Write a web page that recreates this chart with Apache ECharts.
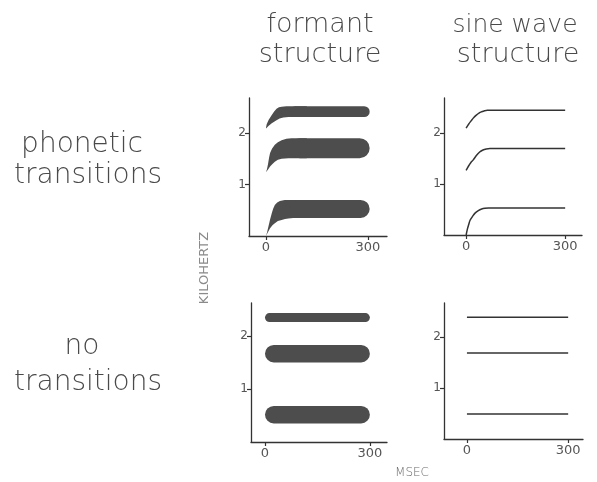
<!DOCTYPE html>
<html>
<head>
<meta charset="utf-8">
<script src="https://cdn.jsdelivr.net/npm/echarts@6/dist/echarts.min.js"></script>
<style>html,body{margin:0;padding:0;background:#fff;}#c{width:597px;height:482px;}</style>
</head>
<body>
<div id="c"></div>
<script>
// ---- data ----
const xTickMs = [0, 300];
const yTickKHz = [1, 2];
const colTitles = [['formant', 'structure'], ['sine wave', 'structure']];
const rowTitles = [['phonetic', 'transitions'], ['no', 'transitions']];
const yAxisTitle = 'KILOHERTZ';
const xAxisTitle = 'MSEC';

// top-left: formant bands with transitions (edges as [ms, kHz])
const tlF1Upper = [[0,0],[3,0.07],[7,0.18],[12,0.32],[17,0.44],[21,0.53],[26,0.60],[33,0.65],[41,0.68],[55,0.70],[120,0.70]];
const tlF1Lower = [[0,0],[6,0.08],[12,0.15],[19,0.21],[26,0.25],[35,0.29],[46,0.31],[56,0.33],[66,0.34],[80,0.35],[120,0.35]];
const tlF2Upper = [[0,1.24],[3,1.30],[6,1.40],[9,1.52],[12,1.61],[18,1.70],[26,1.77],[35,1.82],[46,1.86],[60,1.89],[75,1.90],[120,1.90]];
const tlF2Lower = [[0,1.24],[6,1.29],[12,1.35],[19,1.40],[26,1.44],[35,1.48],[46,1.50],[66,1.51],[120,1.51]];
const tlF3Upper = [[0,2.10],[2,2.17],[8,2.26],[17,2.35],[24,2.42],[31,2.47],[38,2.50],[46,2.51],[60,2.52],[120,2.52]];
const tlF3Lower = [[0,2.09],[8,2.14],[17,2.19],[24,2.22],[31,2.25],[40,2.28],[51,2.30],[66,2.31],[120,2.31]];
const tlSteady = [[0.35,0.70],[1.51,1.90],[2.31,2.52]]; // [low, high] kHz
const tlSteadyEnd = 305;

// bottom-left: steady formant bands [low, high] kHz, from 0 to 300 ms
const blBands = [[0.35,0.68],[1.50,1.83],[2.26,2.43]];
const blStart = 0, blEnd = 300;

// top-right: sine-wave tracks with transitions [ms, kHz]
const trF1 = [[0,0],[4,0.12],[8,0.21],[12,0.29],[20,0.37],[27,0.43],[37,0.48],[47,0.51],[57,0.525],[68,0.53],[300,0.53]];
const trF2 = [[0,1.27],[7,1.35],[14,1.42],[21,1.47],[31,1.56],[41,1.63],[51,1.67],[61,1.69],[72,1.70],[300,1.70]];
const trF3 = [[0,2.10],[8,2.18],[15,2.24],[21,2.29],[30,2.35],[40,2.40],[47,2.42],[56,2.44],[64,2.45],[300,2.45]];

// bottom-right: steady sine-wave tracks (kHz), 0..300 ms
const brTracks = [0.49, 1.69, 2.39];
const brStart = 0, brEnd = 300;

// ---- chart ----
const ink = '#333';
const bandColor = '#4d4d4d';
const textGray = '#4a4a4a';
const FONT = 'DejaVu Sans';

const grids = [
  {left:249, top:98, width:138, height:138},
  {left:444, top:98, width:138, height:137},
  {left:251, top:303, width:136, height:139},
  {left:444, top:303, width:139, height:136}
];
const xRanges = [[-50,356],[-67,351],[-40,349],[-68,344]];
const yMax = [2.68, 2.69, 2.62, 2.67];

const xAxes = grids.map((g,i)=>({
  type:'value', gridIndex:i, min:xRanges[i][0], max:xRanges[i][1],
  axisLine:{show:true, onZero:false, lineStyle:{color:ink, width:1.3}},
  axisTick:{show:true, customValues:xTickMs, length:4, lineStyle:{color:ink, width:1.2}},
  axisLabel:{show:true, customValues:xTickMs, fontSize:13, color:'#555', fontFamily:FONT, margin:5},
  splitLine:{show:false}
}));
const yAxes = grids.map((g,i)=>({
  type:'value', gridIndex:i, min:0, max:yMax[i],
  axisLine:{show:true, onZero:false, lineStyle:{color:ink, width:1.3}},
  axisTick:{show:true, customValues:yTickKHz, length:4, lineStyle:{color:ink, width:1.2}},
  axisLabel:{show:true, customValues:yTickKHz, fontSize:12, color:'#555', fontFamily:FONT, margin:3},
  splitLine:{show:false}
}));

function transitionBand(upper, lower, steady, endT, idx) {
  return {
    type:'custom', xAxisIndex:idx, yAxisIndex:idx, silent:true,
    data:[[0]],
    renderItem:function(params, api){
      const pts = upper.map(p=>api.coord(p)).concat(lower.slice().reverse().map(p=>api.coord(p)));
      const a = api.coord([70, steady[1]]);
      const b = api.coord([endT, steady[0]]);
      const h = b[1]-a[1];
      return {type:'group', children:[
        {type:'polygon', shape:{points:pts}, style:{fill:bandColor}},
        {type:'rect', shape:{x:a[0], y:a[1], width:b[0]-a[0], height:h, r:h/2}, style:{fill:bandColor}}
      ]};
    }
  };
}
function steadyBand(band, t0, t1, idx) {
  return {
    type:'custom', xAxisIndex:idx, yAxisIndex:idx, silent:true,
    data:[[0]],
    renderItem:function(params, api){
      const a = api.coord([t0, band[1]]);
      const b = api.coord([t1, band[0]]);
      const h = b[1]-a[1];
      return {type:'rect', shape:{x:a[0], y:a[1], width:b[0]-a[0], height:h, r:h/2}, style:{fill:bandColor}};
    }
  };
}
function track(data, idx) {
  return {
    type:'line', xAxisIndex:idx, yAxisIndex:idx, data:data, showSymbol:false, silent:true,
    smooth:0.3, lineStyle:{color:ink, width:1.5}
  };
}

const series = [
  transitionBand(tlF1Upper, tlF1Lower, tlSteady[0], tlSteadyEnd, 0),
  transitionBand(tlF2Upper, tlF2Lower, tlSteady[1], tlSteadyEnd, 0),
  transitionBand(tlF3Upper, tlF3Lower, tlSteady[2], tlSteadyEnd, 0),
  track(trF1, 1), track(trF2, 1), track(trF3, 1),
  ...blBands.map(b=>steadyBand(b, blStart, blEnd, 2)),
  ...brTracks.map(f=>track([[brStart,f],[brEnd,f]], 3))
];

function txt(str, x, y, size, fill) {
  return {type:'text', x:x, y:y, silent:true,
    style:{text:str, fontSize:size, fontFamily:FONT, fontWeight:200, fill:fill||textGray, align:'center', verticalAlign:'middle'}};
}

const graphic = [
  txt(colTitles[0][0], 320, 25, 27),
  txt(colTitles[0][1], 320, 55, 27),
  txt(colTitles[1][0], 515, 25, 25),
  txt(colTitles[1][1], 518, 55, 27),
  txt(rowTitles[0][0], 82, 145, 28),
  txt(rowTitles[0][1], 88, 176, 28),
  txt(rowTitles[1][0], 82, 347, 28),
  txt(rowTitles[1][1], 88, 383, 28),
  {type:'text', x:205, y:268, rotation:Math.PI/2, silent:true,
    style:{text:yAxisTitle, fontSize:13, fontFamily:FONT, fill:'#8a8a8a', align:'center', verticalAlign:'middle'}},
  txt(xAxisTitle, 412, 473, 12, '#6a6a6a')
];

const chart = echarts.init(document.getElementById('c'), null, {renderer:'canvas'});
chart.setOption({
  animation:false,
  backgroundColor:'#fff',
  grid:grids,
  xAxis:xAxes,
  yAxis:yAxes,
  series:series,
  graphic:graphic
});
</script>
</body>
</html>
